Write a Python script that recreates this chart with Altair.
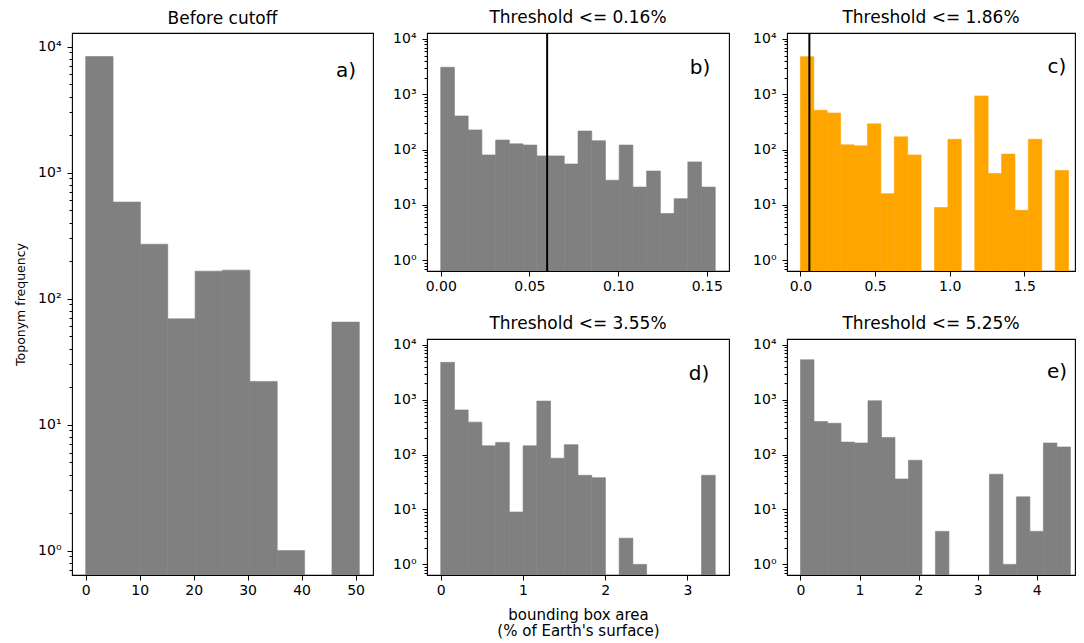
import altair as alt
import pandas as pd
import numpy as np

FONT = "DejaVu Sans"

# ---- data (counts per bin) ----
a_counts = [8330, 583, 270, 69, 165, 168, 22, 1, 0, 65]
a_range = (0.0, 50.7)
b_counts = [3080, 406, 227, 80, 149, 127, 121, 77, 77, 55, 217, 145, 28, 121, 21, 41, 7, 13, 60, 21]
b_range = (0.0, 0.1548)
c_counts = [4780, 513, 459, 122, 117, 292, 16, 170, 80, 0, 9, 154, 0, 933, 37, 83, 8, 154, 0, 42]
c_range = (0.0, 1.797)
d_counts = [4800, 652, 391, 145, 167, 9, 145, 946, 86, 152, 42, 38, 0, 3, 1, 0, 0, 0, 0, 42]
d_range = (0.0, 3.338)
e_counts = [5350, 400, 374, 169, 163, 959, 206, 36, 79, 0, 4, 0, 0, 0, 44, 1, 17, 4, 163, 138]
e_range = (0.0, 4.572)

cutoff_line = [0.06]

titles = ["Before cutoff", "Threshold <= 0.16%", "Threshold <= 1.86%",
          "Threshold <= 3.55%", "Threshold <= 5.25%"]
letters = ["a)", "b)", "c)", "d)", "e)"]

a_ticks = [0, 10, 20, 30, 40, 50]
b_ticks = [0.0, 0.05, 0.10, 0.15]
c_ticks = [0.0, 0.5, 1.0, 1.5]
d_ticks = [0, 1, 2, 3]
e_ticks = [0, 1, 2, 3, 4]

YDOM = [0.64, 12800]
y_ticks = [m * 10 ** k for k in range(-1, 5) for m in range(1, 10)]
y_ticks = [v for v in y_ticks if YDOM[0] <= v <= YDOM[1]]

MAJOR = "datum.value == 1 || datum.value == 10 || datum.value == 100 || datum.value == 1000 || datum.value == 10000"
LABEL = ("datum.value == 1 ? '10\u2070' : datum.value == 10 ? '10\u00b9' : "
         "datum.value == 100 ? '10\u00b2' : datum.value == 1000 ? '10\u00b3' : "
         "datum.value == 10000 ? '10\u2074' : ''")

GRAY = "#808080"
ORANGE = "#FFA500"


def panel(counts, rng, title, letter, color, width, height, xdom, xticks, xfmt,
          letter_x, letter_y, rule=False, xtitle=None, ytitle=None):
    n = len(counts)
    edges = np.linspace(rng[0], rng[1], n + 1)
    df = pd.DataFrame({"x0": edges[:-1], "x1": edges[1:], "count": counts})
    df = df[df["count"] > 0]

    xscale = alt.Scale(domain=xdom, nice=False, zero=False)
    yscale = alt.Scale(type="log", domain=YDOM, nice=False)

    xaxis_kw = dict(values=xticks, format=xfmt, grid=False, domain=False,
                    tickSize=5, tickColor="black", tickWidth=1,
                    labelFont=FONT, labelFontSize=14, labelColor="black",
                    labelPadding=3, labelFlush=False, labelOverlap=False)
    if xtitle is not None:
        xaxis_kw.update(title=xtitle, titleFont=FONT, titleFontSize=15,
                        titleFontWeight="normal", titleColor="black",
                        titlePadding=10, titleLineHeight=16)
    else:
        xaxis_kw.update(title=None)
    xaxis = alt.Axis(**xaxis_kw)

    yaxis_kw = dict(values=y_ticks, labelExpr=LABEL, grid=False, domain=False,
                    tickSize={"condition": {"test": MAJOR, "value": 5}, "value": 3},
                    tickColor="black", tickWidth=1,
                    labelFont=FONT, labelFontSize=14, labelColor="black",
                    labelPadding=6, labelOverlap=False)
    if ytitle is not None:
        yaxis_kw.update(title=ytitle, titleFont=FONT, titleFontSize=12.5,
                        titleFontWeight="normal", titleColor="black",
                        titlePadding=10)
    else:
        yaxis_kw.update(title=None)

    bars = alt.Chart(df).mark_rect(color=color, stroke=color, strokeWidth=0.6,
                                   clip=True).encode(
        x=alt.X("x0:Q", scale=xscale, axis=xaxis),
        x2="x1:Q",
        y=alt.Y("count:Q", scale=yscale, axis=alt.Axis(**yaxis_kw)),
        y2=alt.datum(YDOM[0]),
    )
    layers = [bars]
    if rule:
        rdf = pd.DataFrame({"v": cutoff_line})
        layers.append(
            alt.Chart(rdf).mark_rule(color="black", strokeWidth=2).encode(
                x=alt.X("v:Q", scale=xscale, axis=xaxis)
            )
        )
    tdf = pd.DataFrame({"t": [letter]})
    layers.append(
        alt.Chart(tdf).mark_text(align="center", baseline="middle", font=FONT,
                                 fontSize=20, color="black").encode(
            x=alt.value(letter_x), y=alt.value(letter_y), text="t:N"
        )
    )
    return alt.layer(*layers).properties(
        width=width, height=height,
        title=alt.TitleParams(title, font=FONT, fontSize=17, fontWeight="normal",
                              color="black", anchor="middle", offset=5),
    )


pa = panel(a_counts, a_range, titles[0], letters[0], GRAY, 301, 542,
           [-2.535, 53.235], a_ticks, "d", 274, 38, ytitle="Toponym frequency")
pb = panel(b_counts, b_range, titles[1], letters[1], GRAY, 302, 238,
           [-0.00774, 0.16254], b_ticks, ".2f", 273, 35, rule=True)
pc = panel(c_counts, c_range, titles[2], letters[2], ORANGE, 288, 238,
           [-0.0899, 1.84], c_ticks, ".1f", 270, 34, rule=True)
pd_ = panel(d_counts, d_range, titles[3], letters[3], GRAY, 302, 236,
            [-0.1669, 3.505], d_ticks, "d", 272, 35,
            xtitle=["bounding box area", "(% of Earth's surface)"])
pe = panel(e_counts, e_range, titles[4], letters[4], GRAY, 288, 236,
           [-0.2286, 4.65], e_ticks, "d", 270, 33)

top = alt.hconcat(pb, pc, spacing=22)
bottom = alt.hconcat(pd_, pe, spacing=22)
right = alt.vconcat(top, bottom, spacing=20)

chart = alt.hconcat(pa, right, spacing=18).properties(
    padding={"left": 6, "top": 0, "right": 0, "bottom": 0}
).configure(font=FONT).configure_view(stroke="black", strokeWidth=1.1)

chart.save("out.html", embed_options={"renderer": "svg", "actions": False})
